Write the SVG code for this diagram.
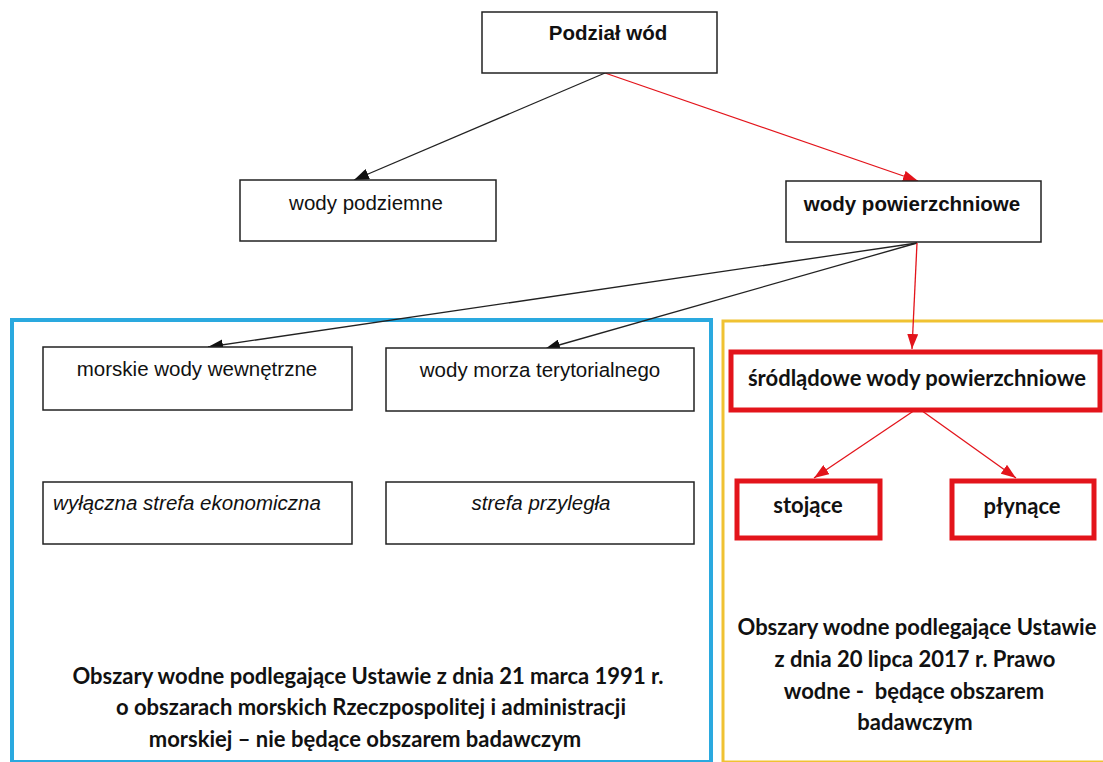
<svg xmlns="http://www.w3.org/2000/svg" width="1103" height="762" viewBox="0 0 1103 762">
<defs>
<style>
.box{fill:#fff;stroke:#222;stroke-width:1.5}
.rbox{fill:#fff;stroke:#e3141b;stroke-width:5}
.t{font-family:"Liberation Sans",Arial,sans-serif;font-size:20.5px;fill:#111;text-anchor:middle}
.b{font-weight:bold}
.i{font-style:italic}
.c{font-family:Lato,"Open Sans",sans-serif;font-weight:bold;font-size:22px;fill:#111;text-anchor:middle}
.k{stroke:#222;stroke-width:1.3;fill:none}
.r{stroke:#e3141b;stroke-width:1.3;fill:none}
</style>
<marker id="ak" viewBox="0 0 15 11" refX="15" refY="5.5" markerWidth="15" markerHeight="11" markerUnits="userSpaceOnUse" orient="auto"><path d="M0,0 L15,5.5 L0,11 z" fill="#111"/></marker>
<marker id="ar" viewBox="0 0 15 11" refX="15" refY="5.5" markerWidth="15" markerHeight="11" markerUnits="userSpaceOnUse" orient="auto"><path d="M0,0 L15,5.5 L0,11 z" fill="#e3141b"/></marker>
</defs>
<rect width="1103" height="762" fill="#fff"/>
<g id="area-morskie">
<rect x="12" y="320" width="699" height="442" fill="none" stroke="#2aa9df" stroke-width="4"/>
<text class="c" x="368" y="684">Obszary wodne podlegające Ustawie z dnia 21 marca 1991 r.</text>
<text class="c" x="371" y="715">o obszarach morskich Rzeczpospolitej i administracji</text>
<text class="c" x="365" y="747">morskiej – nie będące obszarem badawczym</text>
</g>
<g id="area-srodladowe">
<rect x="723" y="321" width="382" height="441" fill="none" stroke="#f0c232" stroke-width="3"/>
<text class="c" x="917" y="635">Obszary wodne podlegające Ustawie</text>
<text class="c" x="915" y="667">z dnia 20 lipca 2017 r. Prawo</text>
<text class="c" x="914" y="699" xml:space="preserve">wodne -  będące obszarem</text>
<text class="c" x="915" y="730">badawczym</text>
</g>
<g id="connectors">
<line class="k" x1="605" y1="73" x2="354" y2="180" marker-end="url(#ak)"/>
<line class="r" x1="605" y1="73" x2="918" y2="181" marker-end="url(#ar)"/>
<line class="k" x1="917" y1="243" x2="208" y2="347" marker-end="url(#ak)"/>
<line class="k" x1="917" y1="243" x2="545" y2="349" marker-end="url(#ak)"/>
<line class="r" x1="917" y1="243" x2="912" y2="349" marker-end="url(#ar)"/>
<line class="r" x1="918" y1="408" x2="814" y2="478" marker-end="url(#ar)"/>
<line class="r" x1="918" y1="408" x2="1016" y2="478" marker-end="url(#ar)"/>
</g>
<g id="podzial"><rect class="box" x="482" y="12" width="235" height="61"/><text class="t b" x="608" y="40">Podział wód</text></g>
<g id="podziemne"><rect class="box" x="240" y="180" width="256" height="61"/><text class="t" x="366" y="210">wody podziemne</text></g>
<g id="powierzchniowe"><rect class="box" x="786" y="181" width="255" height="61"/><text class="t b" x="912" y="211">wody powierzchniowe</text></g>
<g id="morskie"><rect class="box" x="43" y="347" width="309" height="63"/><text class="t" x="197" y="376">morskie wody wewnętrzne</text></g>
<g id="terytorialne"><rect class="box" x="386" y="348" width="308" height="63"/><text class="t" x="540" y="377">wody morza terytorialnego</text></g>
<g id="ekonomiczna"><rect class="box" x="43" y="482" width="309" height="62"/><text class="t i" x="187" y="510">wyłączna strefa ekonomiczna</text></g>
<g id="przylegla"><rect class="box" x="386" y="482" width="308" height="62"/><text class="t i" x="541" y="510">strefa przyległa</text></g>
<g id="srodladowe"><rect class="rbox" x="731" y="352" width="369" height="58"/><text class="c" x="917" y="386">śródlądowe wody powierzchniowe</text></g>
<g id="stojace"><rect class="rbox" x="737" y="481" width="143" height="57"/><text class="c" x="808" y="513">stojące</text></g>
<g id="plynace"><rect class="rbox" x="952" y="481" width="142" height="57"/><text class="c" x="1022" y="514">płynące</text></g>
</svg>
